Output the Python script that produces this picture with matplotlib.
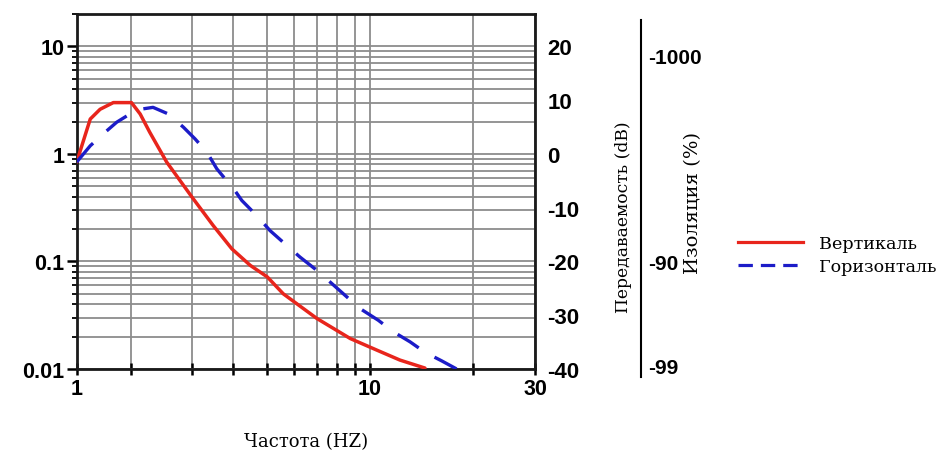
"""Transmissibility vs frequency chart (vertical / horizontal isolation)."""

import matplotlib

matplotlib.use("Agg")
import matplotlib.pyplot as plt
import numpy as np
from matplotlib.lines import Line2D
from matplotlib.ticker import FixedLocator, NullLocator, LogLocator, NullFormatter

# --- data ---------------------------------------------------------------
FREQ_V = [1.0, 1.19, 1.35, 1.60, 2.01, 2.13, 2.27, 2.54, 3.0, 3.48, 3.96, 4.47,
          5.0, 5.57, 6.98, 8.72, 10.46, 12.23, 14.46]
VERT = [0.84, 2.11, 2.6, 3.0, 3.0, 2.35, 1.59, 0.84, 0.40, 0.216, 0.131, 0.092,
        0.0718, 0.050, 0.0295, 0.0192, 0.015, 0.0121, 0.0102]

FREQ_H = [1.0, 1.19, 1.44, 1.67, 1.98, 2.13, 2.32, 2.57, 2.84, 3.07, 3.33, 3.57,
          4.04, 4.23, 4.66, 5.09, 5.70, 6.23, 6.98, 7.62, 8.42, 9.32, 10.57,
          11.69, 13.08, 14.46, 16.18, 17.89]
HORIZ = [0.84, 1.19, 1.59, 1.97, 2.35, 2.6, 2.71, 2.35, 1.77, 1.38, 1.04, 0.726,
         0.457, 0.369, 0.268, 0.194, 0.141, 0.110, 0.0826, 0.0645, 0.0485, 0.0365,
         0.0284, 0.0222, 0.0179, 0.0143, 0.0119, 0.0100]

SERIES_LABELS = ["Вертикаль", "Горизонталь"]

X_TICKS = [1, 2, 3, 4, 5, 6, 7, 8, 9, 10, 20, 30]
X_TICK_LABELS = {1: "1", 10: "10", 30: "30"}
Y_LIM = (0.01, 20)
Y_TICKS = [0.01, 0.1, 1, 10]
Y_TICK_LABELS = ["0.01", "0.1", "1", "10"]
DB_TICKS = [-40, -30, -20, -10, 0, 10, 20]
ISO_TICKS = [8.1, 0.1, 0.0108]       # transmissibility where the % labels sit
ISO_LABELS = ["-1000", "-90", "-99"]

# the printed log paper is not a true log scale: spacing of the frequency grid
X_SCALE_POS = np.array([0, 54, 115, 156.6, 190.6, 217.6, 240.6, 260.6, 278.3,
                        293.3, 396.6, 458.3])

RED = "#e8251c"
BLUE = "#1c1cc8"
GRID = "#8c8c8c"
SANS = "Liberation Sans"
SERIF = "DejaVu Serif"


def _fwd(x):
    lx = np.log10(np.clip(np.asarray(x, dtype=float), 1e-6, None))
    return np.interp(lx, np.log10(X_TICKS), X_SCALE_POS)


def _inv(p):
    return 10 ** np.interp(np.asarray(p, dtype=float), X_SCALE_POS, np.log10(X_TICKS))


W, H = 939, 456
fig = plt.figure(figsize=(W / 100, H / 100), dpi=100)
ax = fig.add_axes([76.7 / W, 86 / H, 458.3 / W, 355 / H])

ax.set_xscale("function", functions=(_fwd, _inv))
ax.set_yscale("log")
ax.set_xlim(X_TICKS[0], X_TICKS[-1])
ax.set_ylim(*Y_LIM)

ax.plot(FREQ_V, VERT, color=RED, lw=2.5, solid_capstyle="round", zorder=3)
ax.plot(FREQ_H, HORIZ, color=BLUE, lw=2.4, dashes=(7.5, 5.5), zorder=3)

# grid
ax.xaxis.set_major_locator(FixedLocator(X_TICKS))
ax.xaxis.set_minor_locator(NullLocator())
ax.set_xticklabels([X_TICK_LABELS.get(t, "") for t in X_TICKS])
ax.yaxis.set_major_locator(FixedLocator(Y_TICKS))
ax.yaxis.set_minor_locator(LogLocator(base=10, subs=np.arange(2, 10)))
ax.yaxis.set_minor_formatter(NullFormatter())
ax.set_yticklabels(Y_TICK_LABELS)
ax.grid(True, which="both", color=GRID, lw=1.3)
ax.set_axisbelow(True)

for s in ax.spines.values():
    s.set_linewidth(2.0)
    s.set_color("#1a1a1a")

ax.tick_params(axis="x", which="major", direction="inout", length=9, width=1.8,
               pad=2, labelsize=15.5)
ax.tick_params(axis="y", which="major", direction="out", length=7, width=1.8,
               pad=2, labelsize=15.5)
ax.tick_params(axis="y", which="minor", direction="out", length=3.5, width=1.3)
for lab in ax.get_xticklabels() + ax.get_yticklabels():
    lab.set_fontweight("bold")
    lab.set_family(SANS)

# right dB axis
ax_db = ax.twinx()
ax_db.set_ylim(20 * np.log10(Y_LIM[0]), 20 * np.log10(Y_LIM[1]))
ax_db.set_yticks(DB_TICKS)
ax_db.set_yticklabels([str(v) for v in DB_TICKS])
ax_db.tick_params(axis="y", length=0, pad=9, labelsize=16)
for lab in ax_db.get_yticklabels():
    lab.set_fontweight("bold")
    lab.set_family(SANS)
for s in ax_db.spines.values():
    s.set_visible(False)

# isolation (%) scale, a bare vertical line with labels
ax_iso = fig.add_axes([641 / W - 0.01, 78 / H, 0.01, 357 / H])
ax_iso.set_yscale("log")
ax_iso.set_ylim(0.0085, 17.1)
ax_iso.yaxis.tick_right()
ax_iso.yaxis.set_major_locator(FixedLocator(ISO_TICKS))
ax_iso.yaxis.set_minor_locator(NullLocator())
ax_iso.set_yticklabels(ISO_LABELS)
ax_iso.set_xticks([])
ax_iso.tick_params(axis="y", length=0, pad=5, labelsize=15)
for lab in ax_iso.get_yticklabels():
    lab.set_fontweight("bold")
    lab.set_family(SANS)
for name, s in ax_iso.spines.items():
    s.set_visible(name == "right")
ax_iso.spines["right"].set_linewidth(1.5)
ax_iso.patch.set_visible(False)

# axis titles
fig.text(306 / W, 1 - 442 / H, "Частота (HZ)", ha="center", va="center",
         family=SERIF, fontsize=13)
fig.text(623 / W, 1 - 217 / H, "Передаваемость (dB)", ha="center", va="center",
         rotation=90, family=SERIF, fontsize=12.3)
fig.text(693 / W, 1 - 203 / H, "Изоляция (%)", ha="center", va="center",
         rotation=90, family=SERIF, fontsize=14)

# legend
handles = [Line2D([], [], color=RED, lw=2.3),
           Line2D([], [], color=BLUE, lw=2.3, dashes=(4.5, 2.5))]
fig.legend(handles, SERIES_LABELS, loc="center left",
           bbox_to_anchor=(731 / W, 1 - 256 / H), frameon=False,
           prop={"family": SERIF, "size": 12.6}, handlelength=3.7,
           handletextpad=0.9, labelspacing=0.35, borderaxespad=0)

fig.savefig("out.png", dpi=100)
